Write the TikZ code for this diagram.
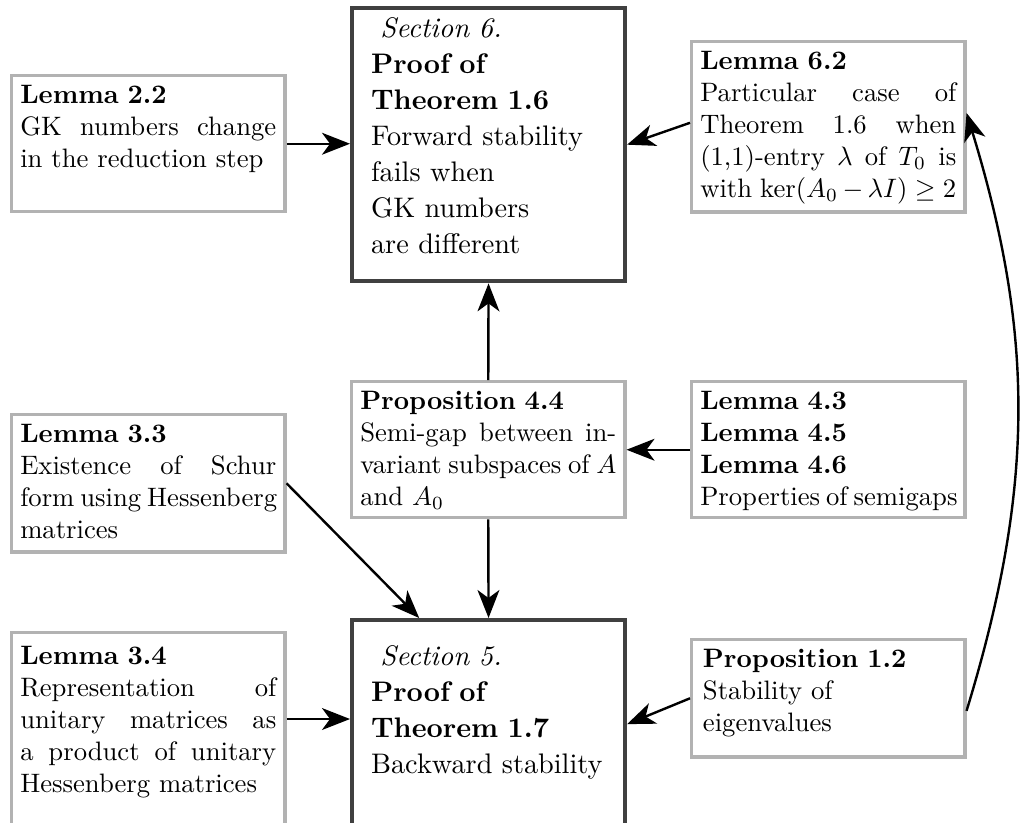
\documentclass[tikz,border=0pt]{standalone}
\usetikzlibrary{arrows.meta}
\newcommand{\jline}[1]{\makebox[96pt][s]{\spaceskip=0pt\xspaceskip=0pt\relax #1}}
\begin{document}
\begin{tikzpicture}[x=0.375pt,y=-0.375pt,
  sbox/.style={draw=black!30, line width=1.3pt, anchor=north west,
    text width=96pt, inner xsep=3.2pt, inner ysep=3.3pt, align=left,
    text height=7.2pt, font=\fontsize{10}{12}\selectfont},
  lbox/.style={draw=black!75, line width=1.6pt, anchor=north west,
    text width=88.1pt, inner xsep=7.1pt, inner ysep=3.6pt, align=left,
    font=\fontsize{10.6}{13.5}\selectfont},
  arr/.style={line width=0.9pt, -{Stealth[length=10.5pt,width=8.2pt,inset=3pt]}}]
\useasboundingbox (0,0) rectangle (1021,822);

\node[sbox, text depth=37.2pt] (l22) at (10,74)
  {\textbf{Lemma 2.2}\\\jline{GK numbers change}\\in the reduction step};
\node[lbox, text height=7.3pt, text depth=87.9pt] (s6) at (350,6)
  {\hspace*{3.5pt}\textit{Section 6.}\\\textbf{Proof of}\\\textbf{Theorem 1.6}\\Forward stability\\fails when\\GK numbers\\are different};
\node[sbox, text depth=50pt] (l62) at (690,40)
  {\textbf{Lemma 6.2}\\\jline{Particular case of}\\\jline{Theorem 1.6 when}\\\jline{(1,1)-entry $\lambda$ of $T_0$ is}\\\jline{with $\ker(A_0-\lambda I)\geq 2$}};
\node[sbox, text depth=37.2pt] (p44) at (350,380)
  {\textbf{Proposition 4.4}\\\jline{Semi-gap between in-}\\\jline{variant subspaces of $A$}\\and $A_0$};
\node[sbox, text depth=37.6pt] (l33) at (10,413)
  {\textbf{Lemma 3.3}\\\jline{Existence of Schur}\\\jline{form using Hessenberg}\\matrices};
\node[sbox, text depth=37.2pt] (l43) at (690,380)
  {\textbf{Lemma 4.3}\\\textbf{Lemma 4.5}\\\textbf{Lemma 4.6}\\\jline{Properties of semigaps}};
\node[lbox, text height=13.3pt, text depth=57.5pt] (s5) at (350,618)
  {\hspace*{3.5pt}\textit{Section 5.}\\\textbf{Proof of}\\\textbf{Theorem 1.7}\\Backward stability};
\node[sbox, text height=8.7pt, text depth=73.6pt] (l34) at (10,631)
  {\textbf{Lemma 3.4}\\\jline{Representation of}\\\jline{unitary matrices as}\\\jline{a product of unitary}\\Hessenberg matrices};
\node[sbox, text width=94pt, inner xsep=4.2pt, text depth=30.1pt] (p12) at (690,638)
  {\textbf{Proposition 1.2}\\Stability of\\eigenvalues};

\draw[arr] (l22.east) -- (l22.east -| s6.west);
\draw[arr] ([yshift=1.5pt]l62.west) -- (s6.east);
\draw[arr] (p44.north) -- (s6.south);
\draw[arr] (l43.west) -- (l43.west -| p44.east);
\draw[arr] (l33.east) -- ([xshift=-26pt]s5.north);
\draw[arr] (p44.south) -- (s5.north);
\coordinate (c34) at ([yshift=-33pt]l34.north east);
\draw[arr] (c34) -- (c34 -| s5.west);
\draw[arr] (p12.west) -- (s5.east);
\draw[arr] ([yshift=-4.7pt]p12.east) to[bend right=17] ([yshift=5.2pt]l62.east);
\end{tikzpicture}
\end{document}
